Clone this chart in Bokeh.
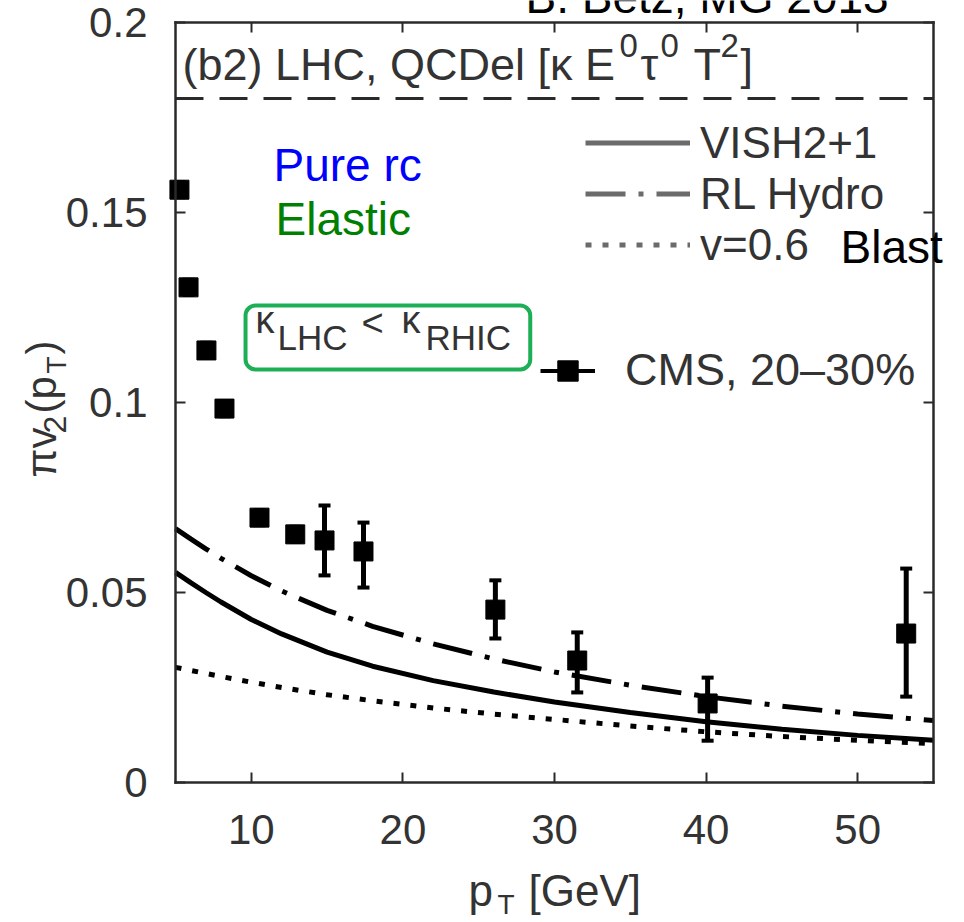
from bokeh.plotting import figure
from bokeh.models import (ColumnDataSource, Whisker, TeeHead, Legend, LegendItem,
                          Label, BoxAnnotation, LinearAxis, FixedTicker)
from bokeh.embed import file_html
from bokeh.resources import INLINE
import math

# CMS 20-30% : pi*v2 of high-pT hadrons, with error bars
cms_pt = [5.26, 5.86, 7.04, 8.23, 10.54, 12.9, 14.83, 17.4, 26.1, 31.5, 40.1, 53.2]
cms_v2 = [0.156, 0.1303, 0.1137, 0.0984, 0.0697, 0.0653, 0.0637, 0.0608, 0.0455, 0.0321, 0.0208, 0.0392]
cms_lo = [0.154, 0.1283, 0.1117, 0.0964, 0.0677, 0.0633, 0.0545, 0.0513, 0.0379, 0.0237, 0.0110, 0.0226]
cms_hi = [0.158, 0.1323, 0.1157, 0.1004, 0.0717, 0.0673, 0.0729, 0.0684, 0.0532, 0.0395, 0.0276, 0.0563]

# model curves (QCDel, pure rc, elastic) for three bulk backgrounds
curve_pt = [5, 6, 7, 8, 10, 12, 15, 18, 22, 26, 30, 35, 40, 45, 50, 55]
vish = [0.0553, 0.0526, 0.0500, 0.0475, 0.0429, 0.0391, 0.0343, 0.0306, 0.0268, 0.0238,
        0.0212, 0.0184, 0.0160, 0.0140, 0.0124, 0.0111]
rl_hydro = [0.0668, 0.0641, 0.0615, 0.0590, 0.0544, 0.0504, 0.0453, 0.0411, 0.0365, 0.0325,
            0.0291, 0.0256, 0.0226, 0.0201, 0.0180, 0.0163]
blast = [0.0303, 0.0295, 0.0287, 0.0279, 0.0264, 0.0250, 0.0231, 0.0215, 0.0196, 0.0180,
         0.0166, 0.01485, 0.01335, 0.0121, 0.0111, 0.01025]

x_ticks = [10, 20, 30, 40, 50]
y_ticks = [0, 0.05, 0.1, 0.15, 0.2]
y_tick_labels = ["0", "0.05", "0.1", "0.15", "0.2"]
title_sep = 0.18

x_lo, x_hi = 5, 55
y_lo, y_hi = 0, 0.2

FONT = "Liberation Sans"
INK = "#333333"
FRAME = "#2a2a2a"
KEY_GRAY = "#6b6b6b"

# canvas size and pixel edges of the plot box; the frame covers the whole
# canvas so that every text can sit outside the box without being clipped
W, H = 964, 922
BOX_L, BOX_R, BOX_T, BOX_B = 175, 933, 22, 782
kx = (x_hi - x_lo) / (BOX_R - BOX_L)
ky = (y_hi - y_lo) / (BOX_B - BOX_T)
x_range = (x_lo - BOX_L * kx, x_hi + (W - BOX_R) * kx)
y_range = (y_lo - (H - BOX_B) * ky, y_hi + BOX_T * ky)

p = figure(width=W, height=H, x_range=x_range, y_range=y_range,
           x_axis_location=None, y_axis_location=None,
           output_backend="svg", toolbar_location=None,
           min_border=0, min_border_left=0, min_border_right=0,
           min_border_top=0, min_border_bottom=0,
           background_fill_color="white", border_fill_color="white")
p.title.visible = False
p.grid.visible = False
p.outline_line_color = None


def make_axis(loc, bounds, ticks, show_labels, standoff=0):
    ax = LinearAxis(fixed_location=loc, bounds=bounds, ticker=FixedTicker(ticks=ticks))
    ax.axis_line_color = FRAME
    ax.axis_line_width = 2.5
    ax.axis_line_cap = "square"
    ax.major_tick_in = 10
    ax.major_tick_out = 0
    ax.major_tick_line_color = FRAME
    ax.major_tick_line_width = 2
    ax.minor_tick_line_color = None
    ax.major_label_text_font = FONT
    ax.major_label_text_font_size = "42px"
    ax.major_label_standoff = standoff
    if show_labels:
        ax.major_label_text_color = INK
    else:
        ax.major_label_text_color = None
        ax.major_label_text_alpha = 0
    return ax


x_axis = make_axis(y_lo, (x_lo, x_hi), x_ticks, True, standoff=32)
p.add_layout(x_axis, "below")
y_axis = make_axis(x_lo, (y_lo, y_hi), y_ticks, True, standoff=28)
y_axis.major_label_overrides = dict(zip(y_ticks, y_tick_labels))
p.add_layout(y_axis, "left")
p.add_layout(make_axis(y_hi, (x_lo, x_hi), x_ticks, False), "above")
p.add_layout(make_axis(x_hi, (y_lo, y_hi), y_ticks, False), "right")

# dashed separator under the panel title
p.line([x_lo, x_hi], [title_sep, title_sep], line_color=FRAME, line_width=3, line_dash="28 16")

# model curves
p.line(curve_pt, vish, line_color="black", line_width=5)
p.line(curve_pt, rl_hydro, line_color="black", line_width=5, line_dash="40 13 5 13")
p.line(curve_pt, blast, line_color="black", line_width=5, line_dash="6 11")

# CMS points with error bars
err_src = ColumnDataSource(dict(x=cms_pt, lower=cms_lo, upper=cms_hi))
p.add_layout(Whisker(source=err_src, base="x", lower="lower", upper="upper",
                     dimension="height", line_color="black", line_width=5, level="underlay",
                     upper_head=TeeHead(size=12, line_width=4, line_color="black"),
                     lower_head=TeeHead(size=12, line_width=4, line_color="black")))
r_cms = p.scatter(cms_pt, cms_v2, marker="square", size=19, fill_color="black", line_color="black")

# legend keys (hidden renderers, drawn only in the legends)
key_vish = p.line(curve_pt, vish, line_color=KEY_GRAY, line_width=5, visible=False)
key_rl = p.line(curve_pt, rl_hydro, line_color=KEY_GRAY, line_width=5,
                line_dash="40 13 5 13", visible=False)
key_blast = p.line(curve_pt, blast, line_color=KEY_GRAY, line_width=5,
                   line_dash="6 11", visible=False)
key_cms = p.line(cms_pt, cms_v2, line_color="black", line_width=4, visible=False)

legend_common = dict(orientation="vertical", padding=0, margin=0, spacing=0,
                     border_line_alpha=0, background_fill_alpha=0,
                     label_text_font=FONT, label_text_color=INK)

p.add_layout(Legend(items=[LegendItem(label="VISH2+1", renderers=[key_vish]),
                           LegendItem(label="RL Hydro", renderers=[key_rl]),
                           LegendItem(label="v=0.6", renderers=[key_blast])],
                    location=(585, 652), glyph_width=105, glyph_height=51,
                    label_height=51, label_standoff=10, label_text_font_size="44px",
                    **legend_common))
p.add_layout(Legend(items=[LegendItem(label="CMS, 20\u201330%", renderers=[key_cms, r_cms])],
                    location=(540, 526), glyph_width=55, glyph_height=51,
                    label_height=51, label_standoff=30, label_text_font_size="45px",
                    **legend_common))

BASELINE_SHIFT = 0.36  # em; lifts the label anchor onto the glyph baseline


def add_text(text, px, py, size, color=INK, angle=0.0):
    """Place a text with its baseline start at pixel (px, py) from the top-left."""
    shift = BASELINE_SHIFT * size
    sx = px - shift * math.sin(angle)
    sy = (H - py) + shift * math.cos(angle)
    p.add_layout(Label(x=sx, y=sy, x_units="screen", y_units="screen", text=text,
                       text_font=FONT, text_font_size=f"{size}px", text_color=color,
                       text_align="left", text_baseline="alphabetic", angle=angle))


# panel title with superscripts
add_text("(b2) LHC, QCDel [\u03ba E", 182, 80, 45)
add_text("0", 619, 57, 33)
add_text("\u03c4", 640, 80, 45)
add_text("0", 660, 57, 33)
add_text("T", 693, 80, 45)
add_text("2", 720, 57, 33)
add_text("]", 740, 80, 45)

# coupling comparison inside a rounded green box
p.add_layout(BoxAnnotation(left=9.62, right=28.4, bottom=0.1087, top=0.1255,
                           fill_alpha=0, line_color="#1daf55", line_alpha=1, line_width=4,
                           border_radius=10))
add_text("\u03ba", 255, 333, 38)
add_text("LHC", 277, 350, 35)
add_text("<", 361, 336, 38)
add_text("\u03ba", 401, 333, 38)
add_text("RHIC", 425, 350, 35)

# scenario notes
add_text("Pure rc", 273, 181, 46, color="#0000ff")
add_text("Elastic", 275, 235, 46, color="#008000")
add_text("Blast", 840, 263, 46, color="black")
add_text("B. Betz, MG 2013", 525, 13, 46, color="black")

# axis titles with subscripts
add_text("p", 468, 906, 44)
add_text("T", 497, 914, 28)
add_text("[GeV]", 528, 906, 44)

up = math.pi / 2
add_text("\u03c0v", 56, 477, 42, angle=up)
add_text("2", 66, 433, 32, angle=up)
add_text("(p", 56, 413, 42, angle=up)
add_text("T", 66, 373, 28, angle=up)
add_text(")", 56, 354, 42, angle=up)

open("out.html", "w").write(file_html(p, INLINE))
